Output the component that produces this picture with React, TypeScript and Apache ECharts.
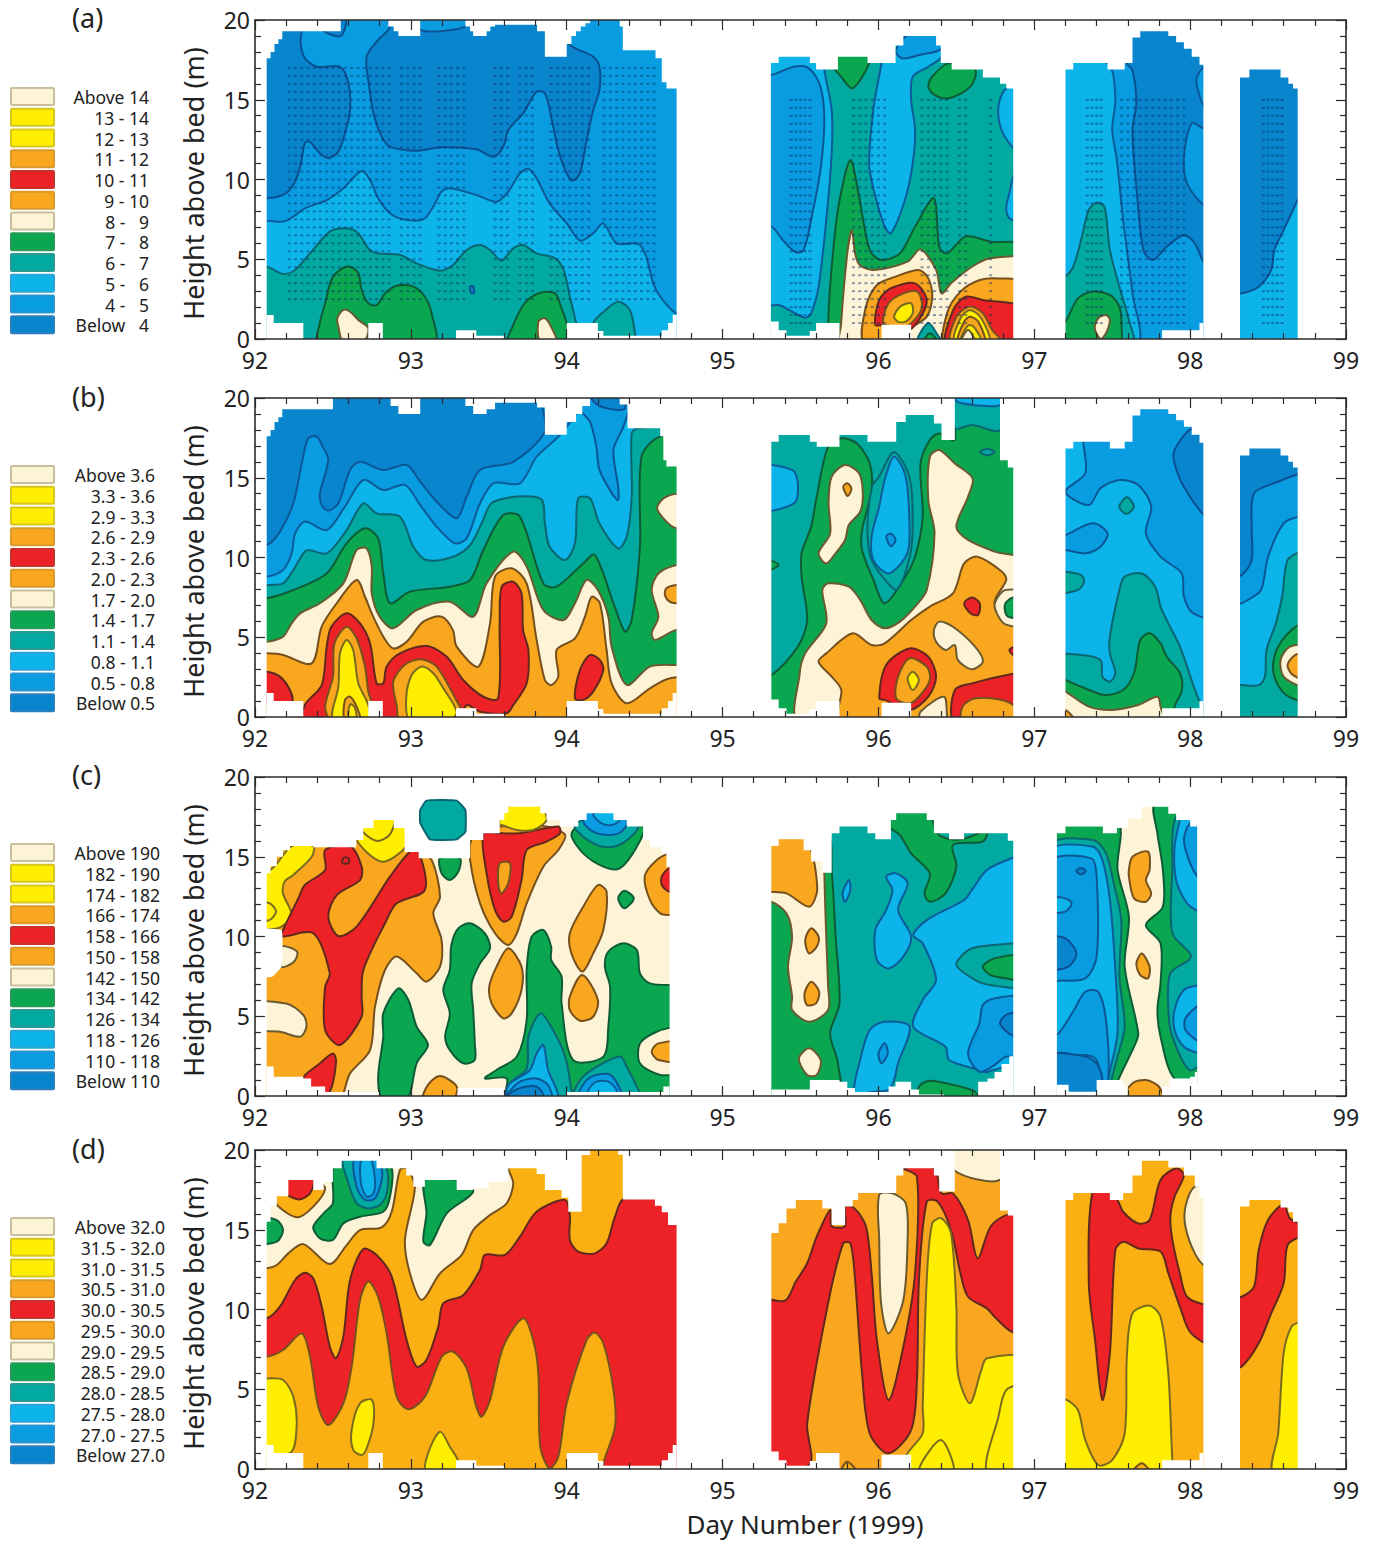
import React, { useEffect, useRef } from "react";
import * as echarts from "echarts";

const FONT = "'Noto Sans', sans-serif";
const FILL: Record<string, string> = {
  cream: "#FDF4D8", yellow: "#FFEE00", orange: "#F8A71E", gold: "#FAB013", red: "#EC2227", green: "#0AA650",
  teal: "#02A9A0", lblue: "#0DB4EA", blue: "#0A9CE0", dblue: "#0985CE", white: "#FFFFFF",
};
const STROKE: Record<string, string> = {
  cream: "#6B5A30", yellow: "#7A6A20", orange: "#75501E", gold: "#75501E", red: "#60281E", green: "#0E5C36",
  teal: "#0A6670", lblue: "#0B5C98", blue: "#0B5796", dblue: "#0B5090", white: "none",
};
const LEGEND_KEYS = ["cream", "yellow", "yellow", "orange", "red", "orange", "cream", "green", "teal", "lblue", "blue", "dblue"];
const EDGE = ["#C8BE9C", "#D8C61C", "#D8C61C", "#D99A2A", "#C8302C", "#D99A2A", "#C8BE9C", "#2A9A5A", "#2A9A94", "#2AA4D4", "#2A94D0", "#2A80BE"];

const legendA = ["Above 14", "13 - 14", "12 - 13", "11 - 12", "10 - 11", "9 - 10", "8 -   9", "7 -   8", "6 -   7", "5 -   6", "4 -   5", "Below   4"];
const legendB = ["Above 3.6", "3.3 - 3.6", "2.9 - 3.3", "2.6 - 2.9", "2.3 - 2.6", "2.0 - 2.3", "1.7 - 2.0", "1.4 - 1.7", "1.1 - 1.4", "0.8 - 1.1", "0.5 - 0.8", "Below 0.5"];
const legendC = ["Above 190", "182 - 190", "174 - 182", "166 - 174", "158 - 166", "150 - 158", "142 - 150", "134 - 142", "126 - 134", "118 - 126", "110 - 118", "Below 110"];
const legendD = ["Above 32.0", "31.5 - 32.0", "31.0 - 31.5", "30.5 - 31.0", "30.0 - 30.5", "29.5 - 30.0", "29.0 - 29.5", "28.5 - 29.0", "28.0 - 28.5", "27.5 - 28.0", "27.0 - 27.5", "Below 27.0"];

type Band = [string, number[]];
type Base = [string, number, number];

// Upper and lower limits of the sampled area: day, height pairs, held until the next day.
const topA = [92,0, 92.075,17.6, 92.1,18, 92.125,18.5, 92.15,18.8, 92.175,19.3, 92.55,20, 92.855,19.6, 92.89,19.3, 92.92,19, 93.06,20, 93.35,19.6, 93.38,19.3, 93.4,19, 93.486,19.3, 93.51,19.6, 93.54,19.7, 93.81,19.3, 93.86,17.7, 94,18.5, 94.03,19, 94.06,19.3, 94.09,19.6, 94.12,19.8, 94.15,20, 94.34,19.6, 94.36,18.1, 94.57,17.6, 94.61,16.1, 94.64,15.7, 94.705,0, 95.31,17.3, 95.36,17.7, 95.56,17.3, 95.6,16.9, 95.74,17.7, 95.93,17.3, 96.11,18.4, 96.16,19, 96.37,18.4, 96.4,17.3, 96.47,16.9, 96.67,16.4, 96.78,16, 96.82,15.7, 96.865,0, 97.2,16.9, 97.25,17.3, 97.47,16.9, 97.58,17.3, 97.63,18.9, 97.68,19.3, 97.86,19, 97.91,18.6, 97.96,18.2, 98.01,17.7, 98.06,17.2, 98.085,0, 98.32,16.4, 98.38,16.9, 98.58,16.4, 98.63,16, 98.66,15.7, 98.69,0];
const bottomA = [92,0, 92.075,1.5, 92.12,1, 92.31,0, 92.727,1, 92.82,0, 93.29,.55, 93.42,.2, 93.6,0, 94,1, 94.2,.5, 94.235,.2, 94.61,.55, 94.65,1, 94.68,1.5, 94.705,0, 95.31,1.1, 95.36,.55, 95.41,.2, 95.56,.5, 95.6,1, 95.75,0, 96.02,.9, 96.21,0, 97.82,.55, 98.06,1, 98.085,0];
const topB = [92,0, 92.075,17.6, 92.1,18, 92.125,18.5, 92.15,18.8, 92.175,19.3, 92.5,20, 92.87,19.5, 92.92,19, 93.06,20, 93.35,19.5, 93.4,19, 93.486,19.3, 93.54,19.7, 93.81,19.4, 93.86,17.7, 94,18.5, 94.06,19, 94.1,19.5, 94.15,20, 94.34,19.6, 94.39,18.1, 94.6,17.6, 94.62,16.1, 94.64,15.7, 94.705,0, 95.313,17.26, 95.36,17.68, 95.56,17.26, 95.604,16.95, 95.75,17.68, 95.93,17.26, 96.114,18.5, 96.175,18.93, 96.356,18.4, 96.405,17.37, 96.49,20, 96.78,16.1, 96.83,15.65, 96.865,0, 97.2,16.84, 97.25,17.26, 97.485,16.84, 97.58,17.26, 97.63,18.9, 97.68,19.3, 97.86,19, 97.91,18.6, 97.96,18.2, 98.01,17.7, 98.06,17.2, 98.085,0, 98.32,16.4, 98.38,16.84, 98.58,16.4, 98.63,16, 98.66,15.65, 98.69,0];
const topC = [92,0, 92.075,13.96, 92.1,14.4, 92.14,15, 92.18,15.4, 92.225,15.67, 92.374,15.6, 92.65,16.05, 92.695,16.8, 92.76,17.3, 92.89,16.8, 92.96,15.3, 93.05,14.9, 93.38,16.05, 93.465,16.47, 93.57,17.3, 93.6,17.75, 93.625,18.14, 93.83,17.72, 93.87,17.3, 93.957,16.89, 94.074,17.3, 94.128,17.72, 94.3,17.3, 94.385,16.89, 94.49,16.05, 94.534,15.6, 94.61,15.2, 94.64,14.38, 94.66,0, 95.313,15.67, 95.36,16.1, 95.52,15.4, 95.568,14.7, 95.64,14, 95.7,16.47, 95.75,16.9, 95.93,16.47, 95.98,16.1, 96.08,17.3, 96.114,17.72, 96.31,17.3, 96.356,16.47, 96.453,16.1, 96.55,16.47, 96.83,16, 96.865,0, 97.145,16.47, 97.2,16.9, 97.44,16.47, 97.53,16.8, 97.6,17.4, 97.69,18.14, 97.86,17.7, 97.91,17.3, 98,16.9, 98.045,0];
const bottomC = [92,0, 92.075,1.85, 92.12,1.2, 92.31,1.1, 92.36,.6, 92.45,.25, 92.8,0, 93.3,.5, 93.6,0, 94,.25, 94.62,.6, 94.66,0, 95.313,.4, 95.56,1, 95.75,.9, 95.8,.5, 95.85,.25, 96.065,.6, 96.11,.9, 96.21,.4, 96.26,.1, 96.42,0, 96.64,.9, 96.7,1.1, 96.745,1.5, 96.79,2, 96.84,2.5, 96.865,0, 97.145,.7, 97.22,.27, 97.4,1, 97.57,.6, 97.6,0, 97.82,.6, 97.87,1.1, 98,1.2, 98.03,1.5, 98.045,0];
const topD = [92,0, 92.075,15.5, 92.1,16.5, 92.14,17.1, 92.214,18.12, 92.374,17.5, 92.44,18, 92.5,18.85, 92.556,19.33, 92.78,18.85, 92.97,18.4, 93.016,17.7, 93.09,18.12, 93.294,17.5, 93.4,17.6, 93.5,18, 93.625,18.85, 93.807,18.5, 93.86,17.5, 93.967,17, 94.01,16.13, 94.096,19.69, 94.15,20, 94.33,19.7, 94.36,16.9, 94.566,16.5, 94.61,16.1, 94.65,15.3, 94.705,0, 95.313,14.8, 95.36,15.4, 95.41,16.34, 95.47,16.87, 95.64,16.34, 95.7,15.3, 95.786,16.45, 95.835,16.87, 95.87,17.3, 96.114,18.4, 96.16,18.85, 96.356,18.4, 96.39,17.4, 96.49,20, 96.78,16.2, 96.83,15.9, 96.865,0, 97.2,16.87, 97.25,17.3, 97.485,16.87, 97.57,17.3, 97.63,18.4, 97.69,19.33, 97.86,18.9, 97.96,18.4, 98.03,17.7, 98.06,17, 98.085,0, 98.32,16.45, 98.38,16.87, 98.58,16.4, 98.63,16.1, 98.66,15.5, 98.69,0];

const basesA: Base[] = [["blue",92,94.8],["teal",95.2,96.95],["blue",97.1,98.2],["lblue",98.2,98.8]];
const bandsA: Band[] = [
  ["dblue",[91.9,8.82, 92.075,8.82, 92.18,9.03, 92.246,9.65, 92.29,10.8, 92.32,12.27, 92.35,12.37, 92.417,11.64, 92.47,11.33, 92.535,11.75, 92.577,12.9, 92.61,14.36, 92.6,16.03, 92.545,17.07, 92.396,17.07, 92.32,17.6, 92.293,18.54, 92.29,20.2, 91.9,20.2]],
  ["dblue",[92.43,19.4, 92.55,19, 92.58,20.2, 92.43,20.2]],
  ["dblue",[92.862,20.2, 92.862,19.48, 92.79,18.75, 92.716,17.7, 92.733,15.82, 92.76,14.15, 92.813,12.69, 92.866,12.06, 93.037,11.8, 93.187,12.02, 93.42,11.89, 93.53,11.43, 93.593,12.06, 93.625,13.1, 93.72,14.15, 93.807,15.5, 93.86,15.4, 93.9,13.94, 93.946,11.85, 94,10.39, 94.04,9.93, 94.085,10.39, 94.128,12.48, 94.17,14.36, 94.21,15.6, 94.21,17.07, 94.17,17.7, 94.01,18.54, 94.01,20.2]],
  ["blue",[93.06,20.2, 93.06,19.4, 93.19,19.3, 93.35,19.6, 93.35,20.2]],
  ["lblue",[91.9,7.42, 92.075,7.42, 92.18,7.36, 92.246,7.67, 92.32,8.19, 92.46,8.71, 92.567,9.45, 92.684,10.53, 92.738,9.97, 92.79,8.82, 92.866,7.88, 92.95,7.5, 93.08,7.5, 93.144,8.3, 93.197,9.24, 93.25,9.45, 93.42,9.03, 93.55,8.61, 93.625,9.24, 93.7,10.39, 93.754,10.66, 93.807,10.07, 93.89,8.5, 94,7.25, 94.085,6.17, 94.17,6.62, 94.235,7.25, 94.32,6, 94.46,5.96, 94.51,5.16, 94.555,3.49, 94.6,2.65, 94.705,1.6, 94.85,1.6, 94.85,-.3, 91.9,-.3]],
  ["teal",[91.9,4.53, 92.075,4.53, 92.18,4.08, 92.257,4.33, 92.353,5.37, 92.48,6.73, 92.588,6.94, 92.663,6.62, 92.727,5.68, 92.78,5.37, 92.93,5.27, 93.037,4.74, 93.187,4.28, 93.27,4.64, 93.358,5.58, 93.444,5.89, 93.508,5.58, 93.58,4.91, 93.657,5.68, 93.72,5.89, 93.807,5.37, 93.925,5.06, 93.98,4.33, 94.02,2.65, 94.053,1.3, 94.074,-.3, 91.9,-.3]],
  ["teal",[94.17,1, 94.235,1.7, 94.33,2.34, 94.405,1.82, 94.44,.25, 94.44,-.3, 94.17,-.3]],
  ["green",[92.406,-.3, 92.413,.88, 92.45,2.24, 92.49,3.7, 92.545,4.33, 92.61,4.53, 92.663,4.12, 92.684,3.07, 92.727,2.24, 92.78,2.13, 92.834,2.86, 92.909,3.34, 93.016,3.28, 93.09,2.65, 93.133,1.61, 93.148,-.3]],
  ["green",[93.625,-.3, 93.657,.88, 93.73,2.24, 93.83,2.9, 93.925,2.86, 93.967,1.92, 94,.98, 94.02,-.3]],
  ["cream",[92.528,1.3, 92.567,1.82, 92.61,1.71, 92.663,1.19, 92.727,.67, 92.695,-.2, 92.567,-.2, 92.535,.77]],
  ["cream",[93.818,1.09, 93.86,1.3, 93.9,.77, 93.935,-.2, 93.83,-.2]],
  ["dblue",[93.38,3.3, 93.4,3.3, 93.405,2.9, 93.385,2.9]],
  // day 95-97 block
  ["lblue",[95.2,17.9, 95.653,17.9, 95.653,16.87, 95.7,14.36, 95.7,11.64, 95.665,7.46, 95.616,3.28, 95.568,1.61, 95.53,1.34, 95.446,1.71, 95.36,2.13, 95.2,2.13]],
  ["blue",[95.2,16.55, 95.313,16.55, 95.458,17.07, 95.555,16.97, 95.628,15.82, 95.653,13.73, 95.628,10.6, 95.568,7.46, 95.52,5.58, 95.47,5.43, 95.386,6.21, 95.313,7.04, 95.2,7.04]],
  ["green",[95.7,17.28, 95.76,18, 95.93,18, 95.94,17.28, 95.835,15.72, 95.76,16.45]],
  ["lblue",[96.03,17.9, 95.97,14.57, 95.94,11, 95.97,9.34, 96.04,7.04, 96.08,6.62, 96.17,8.71, 96.22,11, 96.235,13.1, 96.21,15, 96.22,16.45, 96.32,17.07, 96.405,17.7, 96.43,18.75, 96.03,18.75]],
  ["blue",[96.11,18.1, 96.21,19.2, 96.405,19.2, 96.405,18.2, 96.26,17.8, 96.15,17.6]],
  ["green",[96.32,15.82, 96.345,16.45, 96.45,17.28, 96.62,16.87, 96.59,15.82, 96.45,15.09, 96.36,15.3]],
  ["lblue",[96.95,15.7, 96.82,15.7, 96.77,14.57, 96.79,13.1, 96.88,11.85, 96.95,11.85]],
  ["lblue",[96.95,10.5, 96.88,10.5, 96.84,9.13, 96.82,8.2, 96.84,7.57, 96.88,7.46, 96.95,7.46]],
  ["green",[95.677,.77, 95.69,3.28, 95.74,8.09, 95.82,11.22, 95.876,8.92, 95.944,5.58, 96.017,4.95, 96.138,5.37, 96.235,7.04, 96.356,8.82, 96.39,5.79, 96.44,5.37, 96.56,6.42, 96.72,6.1, 96.94,5.79, 96.94,-.4, 95.677,-.4]],
  ["cream",[95.76,.88, 95.8,5.37, 95.83,6.83, 95.85,5.37, 95.88,4.64, 95.97,4.33, 96.187,4.85, 96.27,5.62, 96.37,4.33, 96.405,2.86, 96.466,3.49, 96.6,4.53, 96.72,5.06, 96.94,4.91, 96.94,-.4, 95.76,-.4]],
  ["orange",[95.907,-.2, 95.92,2.03, 95.99,3.39, 96.11,3.91, 96.26,4.33, 96.32,3.8, 96.345,2.65, 96.31,1.4, 96.21,.67, 96.16,-.2]],
  ["red",[95.98,.88, 96.005,2.45, 96.08,3.18, 96.235,3.49, 96.31,2.45, 96.26,1.19, 96.175,.46, 96.04,.88]],
  ["orange",[96.03,.98, 96.065,2.24, 96.16,2.86, 96.25,2.97, 96.28,2.13, 96.25,1.4, 96.16,.67, 96.09,.8]],
  ["yellow",[96.1,1.4, 96.14,2.03, 96.21,2.24, 96.22,1.61, 96.175,1.09, 96.125,1.09]],
  ["teal",[96.25,-.2, 96.32,1, 96.38,.25, 96.405,-.2]],
  ["green",[96.29,-.2, 96.33,.36, 96.38,-.2]],
  ["orange",[96.43,-.3, 96.44,1.61, 96.526,2.97, 96.65,3.7, 96.77,3.8, 96.94,3.49, 96.94,-.3]],
  ["red",[96.44,-.3, 96.48,1.82, 96.56,2.65, 96.67,2.45, 96.94,1.92, 96.94,-.3]],
  ["orange",[96.466,-.2, 96.5,1.4, 96.587,2.03, 96.67,1.61, 96.73,.56, 96.79,-.2]],
  ["yellow",[96.49,-.2, 96.526,1.3, 96.587,1.82, 96.66,1.3, 96.71,-.2]],
  ["orange",[96.51,-.2, 96.55,1.09, 96.587,1.4, 96.64,1.09, 96.68,-.2]],
  ["yellow",[96.526,-.2, 96.56,.67, 96.587,.88, 96.62,.67, 96.66,-.2]],
  ["cream",[96.53,-.2, 96.575,.56, 96.62,-.2]],
  // day 97-98 block
  ["lblue",[97.13,17.9, 97.47,17.28, 97.52,15.19, 97.5,13.1, 97.53,11.22, 97.57,7.46, 97.63,2.86, 97.66,-.3, 97.13,-.3]],
  ["dblue",[97.594,17.28, 97.63,16.87, 97.655,14.78, 97.63,13.1, 97.655,9.55, 97.7,5.58, 97.76,4.95, 97.85,5.79, 97.96,6.52, 98.03,6, 98.1,4.64, 98.18,4.64, 98.18,20, 97.594,20]],
  ["blue",[98.18,17.07, 98.09,17.07, 98.04,16.24, 98.07,14.98, 98.1,14.57, 98.18,14.57]],
  ["blue",[98.18,13.2, 98.09,13.2, 98.01,13.52, 97.96,11.43, 97.98,9.76, 98.09,8.4, 98.18,8.4]],
  ["teal",[97.13,3.49, 97.2,3.91, 97.25,4.53, 97.3,6.21, 97.35,8.09, 97.4,8.55, 97.45,8.3, 97.485,5.58, 97.546,3.28, 97.607,1.19, 97.63,-.3, 97.13,-.3]],
  ["green",[97.13,.56, 97.2,1.09, 97.28,2.55, 97.376,2.97, 97.485,2.76, 97.546,2.03, 97.56,.77, 97.546,-.3, 97.13,-.3]],
  ["cream",[97.388,.67, 97.41,1.3, 97.46,1.5, 97.485,1.19, 97.46,.36, 97.425,0]],
  // day 98-99 block
  ["dblue",[98.25,17.5, 98.76,17.5, 98.76,9.03, 98.71,9.03, 98.66,8.09, 98.6,6.83, 98.54,5.58, 98.52,4.33, 98.44,3.28, 98.33,2.86, 98.25,2.86]],
];

const basesB: Base[] = [["dblue",92,94.8],["teal",95.2,96.95],["lblue",97.1,98.2],["lblue",98.2,98.8]];
const bandsB: Band[] = [
  ["blue",[91.9,10.78, 92.075,10.78, 92.16,11.62, 92.246,13.4, 92.3,15.9, 92.342,17.47, 92.396,17.58, 92.434,16.95, 92.47,16.11, 92.417,14.02, 92.428,13.29, 92.47,12.94, 92.535,13.4, 92.61,15.49, 92.674,16, 92.823,15.49, 92.973,15.8, 93.06,14.75, 93.166,13.5, 93.294,12.46, 93.358,13.81, 93.444,15.49, 93.657,16, 93.86,17.89, 93.86,20.2, 94.9,20.2, 94.9,-.3, 91.9,-.3]],
  ["lblue",[91.9,8.8, 92.075,8.8, 92.18,9.22, 92.235,10.26, 92.257,11.5, 92.32,12.25, 92.46,11.72, 92.577,13.19, 92.695,14.86, 92.823,14.23, 92.962,14.55, 93.06,13.29, 93.166,11.93, 93.283,10.89, 93.358,11.2, 93.444,13.4, 93.53,14.65, 93.7,14.65, 93.807,16.32, 93.946,17.58, 94.085,19.35, 94.128,20.2, 94.9,20.2, 94.9,-.3, 91.9,-.3]],
  ["blue",[94.085,19.35, 94.15,18.5, 94.19,16.95, 94.21,15.49, 94.29,14.02, 94.33,13.6, 94.33,14.44, 94.3,16.74, 94.363,18.2, 94.395,19.67, 94.15,20.2]],
  ["dblue",[94.15,20.2, 94.21,19.5, 94.37,19.3, 94.35,20.2]],
  ["teal",[91.9,8.28, 92.075,8.28, 92.18,8.38, 92.246,9.22, 92.31,10.26, 92.342,10.47, 92.46,10.26, 92.588,11.72, 92.695,13.4, 92.78,12.77, 92.93,12.56, 93.016,10.68, 93.1,9.84, 93.27,10.05, 93.38,10.78, 93.454,12.14, 93.53,13.5, 93.83,13.71, 93.86,12.14, 93.89,10.68, 93.99,9.84, 94.053,10.89, 94.074,13.71, 94.15,13.71, 94.21,12.14, 94.33,10.57, 94.385,11.31, 94.417,13.81, 94.417,17.78, 94.46,18.1, 94.9,18.1, 94.9,-.3, 91.9,-.3]],
  ["green",[91.9,7.44, 92.075,7.44, 92.246,7.96, 92.46,9, 92.588,10.89, 92.706,11.83, 92.79,11.2, 92.823,9, 92.866,7.13, 92.994,7.86, 93.25,8.17, 93.38,8.59, 93.465,10.47, 93.593,12.66, 93.7,12.56, 93.85,8.38, 93.935,8.17, 94.106,9.63, 94.18,10.16, 94.3,7.13, 94.374,5.35, 94.417,6.08, 94.47,10.68, 94.48,16.32, 94.6,17.58, 94.9,17.58, 94.9,-.3, 91.9,-.3]],
  ["cream",[91.9,4.72, 92.075,4.72, 92.18,5.04, 92.235,5.87, 92.29,6.5, 92.417,7.13, 92.567,8.38, 92.652,10.47, 92.716,10.57, 92.749,9.43, 92.749,7.75, 92.8,6.29, 92.887,5.56, 93.037,6.71, 93.25,7.23, 93.4,6.29, 93.486,8.38, 93.657,10.37, 93.743,9.43, 93.85,6.71, 93.98,6.08, 94.053,7.13, 94.128,8.59, 94.2,7.96, 94.267,6.29, 94.288,4.41, 94.385,2.01, 94.534,3.16, 94.705,3.26, 94.9,3.26, 94.9,-.3, 91.9,-.3]],
  ["cream",[94.9,14, 94.705,14, 94.62,13.7, 94.58,13.08, 94.64,12.25, 94.705,11.83, 94.9,11.83]],
  ["cream",[94.9,9.53, 94.705,9.53, 94.588,9, 94.545,7.96, 94.588,6.29, 94.545,5.25, 94.566,4.83, 94.705,5.45, 94.9,5.45]],
  ["orange",[94.9,8.28, 94.705,8.28, 94.64,8.07, 94.63,7.65, 94.66,7.23, 94.705,7.13, 94.9,7.13]],
  ["orange",[91.9,3.99, 92.075,3.99, 92.18,3.89, 92.364,3.36, 92.428,5.66, 92.524,7.13, 92.652,8.59, 92.706,7.54, 92.749,6.5, 92.823,5.04, 92.887,4.3, 92.973,4.72, 93.08,5.98, 93.198,6.29, 93.27,5.45, 93.294,4.41, 93.433,3.16, 93.508,5.87, 93.54,8.8, 93.647,9.32, 93.743,8.38, 93.807,4.83, 93.86,2.32, 93.9,2, 93.946,2.53, 93.935,4.2, 94.053,4.93, 94.117,6.29, 94.16,7.54, 94.213,7.13, 94.256,4.2, 94.288,2.11, 94.385,.86, 94.534,1.8, 94.66,2.42, 94.9,2.42, 94.9,-.3, 91.9,-.3]],
  ["red",[91.9,2.84, 92.075,2.84, 92.16,2.53, 92.224,1.69, 92.235,.96, 92.075,.8, 91.9,.8]],
  ["red",[92.31,-.3, 92.32,.75, 92.428,2, 92.46,4.41, 92.49,5.66, 92.588,6.5, 92.674,5.87, 92.738,4.62, 92.78,2.11, 92.823,2.11, 92.845,3.16, 92.93,3.99, 93.1,4.45, 93.23,3.78, 93.336,2.32, 93.465,1.27, 93.56,1.17, 93.57,5.87, 93.583,8.17, 93.657,8.48, 93.71,7.75, 93.72,5.45, 93.754,4.2, 93.743,2.11, 93.657,.75, 93.615,.23, 93.444,.33, 93.358,.75, 93.294,-.3]],
  ["orange",[92.49,-.2, 92.45,.65, 92.5,2.53, 92.51,4.62, 92.588,5.66, 92.652,4.93, 92.706,3.16, 92.727,1.59, 92.749,.75, 92.695,-.2]],
  ["yellow",[92.5,-.2, 92.535,1.9, 92.545,3.99, 92.588,4.83, 92.63,4.2, 92.663,2.11, 92.727,.75, 92.727,-.2]],
  ["orange",[92.577,-.2, 92.577,1.07, 92.61,1.27, 92.652,.65, 92.674,-.2]],
  ["yellow",[92.6,-.2, 92.61,.8, 92.64,.6, 92.65,-.2]],
  ["orange",[92.93,-.2, 92.91,.65, 92.887,2.22, 92.96,3.26, 93.06,3.62, 93.166,3.16, 93.315,.65, 93.37,-.2]],
  ["yellow",[92.994,-.2, 92.97,1.17, 93.005,2.63, 93.07,3.16, 93.144,2.74, 93.208,1.8, 93.294,.33, 93.25,-.2]],
  ["red",[94.053,1.17, 94.085,2.95, 94.15,3.89, 94.213,3.57, 94.235,2.95, 94.17,1.59, 94.106,1.07]],
  // day 95-97 block
  ["lblue",[95.2,15.69, 95.446,15.49, 95.483,14.65, 95.458,13.4, 95.2,12.98]],
  ["green",[95.2,10.05, 95.36,9.53, 95.2,9]],
  ["green",[95.2,2.63, 95.313,2.63, 95.483,4.41, 95.543,6.08, 95.507,8.8, 95.507,10.26, 95.568,11.93, 95.604,13.81, 95.677,16.95, 95.762,17.47, 95.86,17.16, 95.944,15.9, 95.956,14.23, 95.895,11.72, 95.895,10.47, 95.968,8.59, 96.04,7.13, 96.16,8.59, 96.235,10.05, 96.284,12.56, 96.27,15.9, 96.33,17.37, 96.39,17.78, 96.49,17.37, 96.49,20.3, 96.94,20.3, 96.94,-.3, 95.2,-.3]],
  ["teal",[96.49,18.1, 96.6,18.3, 96.78,17.98, 96.78,20.3, 96.49,20.3]],
  ["lblue",[96.5,19.8, 96.62,19.55, 96.78,19.55, 96.78,20.3, 96.5,20.3]],
  ["teal",[96.65,16.6, 96.7,16.8, 96.745,16.6, 96.7,16.4]],
  ["teal",[95.96,14.5, 96.0,15, 96.1,16.6, 96.2,15, 96.22,12, 96.2,10, 96.12,8, 96.05,8.5, 95.95,10, 95.93,12]],
  ["lblue",[96.04,14.86, 96.1,16.32, 96.175,15.07, 96.2,11.31, 96.175,10.05, 96.065,9, 95.968,9.84, 95.956,11.31, 96.005,13.19]],
  ["blue",[96.05,11.31, 96.08,11.5, 96.11,11.1, 96.08,10.7]],
  ["cream",[95.7,15.07, 95.786,15.8, 95.876,15.28, 95.9,14.02, 95.883,12.87, 95.81,12.04, 95.786,11.1, 95.725,10.26, 95.665,9.63, 95.616,10.26, 95.69,11.5, 95.68,13.4]],
  ["orange",[95.774,14.44, 95.8,14.65, 95.827,14.33, 95.803,13.85]],
  ["cream",[95.495,-.3, 95.495,2.74, 95.53,3.99, 95.665,5.87, 95.64,7.96, 95.677,8.38, 95.81,8.17, 95.883,7.34, 95.956,6.08, 96.04,5.56, 96.138,5.98, 96.235,6.92, 96.31,7.96, 96.36,11.52, 96.32,13.6, 96.33,16.32, 96.39,16.74, 96.49,15.9, 96.604,14.96, 96.575,13.81, 96.5,11.93, 96.575,11.1, 96.745,10.37, 96.94,9.74, 96.94,-.3]],
  ["orange",[95.75,-.3, 95.762,1.69, 95.7,2.53, 95.616,3.47, 95.665,3.99, 95.835,5.25, 95.956,4.51, 96.04,4.62, 96.21,6.08, 96.33,6.92, 96.478,7.75, 96.55,9.63, 96.636,10.05, 96.793,9.11, 96.82,8.59, 96.745,7.13, 96.878,5.66, 96.94,5.66, 96.94,-.3]],
  ["cream",[96.94,8, 96.878,8, 96.8,7.9, 96.745,7, 96.8,5.9, 96.878,5.66, 96.94,5.66]],
  ["green",[96.94,7.55, 96.878,7.55, 96.82,7.2, 96.81,6.8, 96.83,6.3, 96.878,6.2, 96.94,6.2]],
  ["red",[96.55,7.13, 96.6,7.5, 96.65,7.13, 96.64,6.4, 96.59,6.5]],
  ["cream",[96.356,5.45, 96.39,5.98, 96.478,5.66, 96.62,4.41, 96.67,3.47, 96.6,2.99, 96.51,3.57, 96.49,4.51, 96.43,4.2, 96.37,4.72]],
  ["red",[96.84,4.2, 96.88,4.41, 96.95,4.41, 96.95,3.78, 96.88,3.78]],
  ["red",[96.005,1.17, 96.05,3.26, 96.2,4.3, 96.32,3.78, 96.37,2.53, 96.32,1.27, 96.2,.44, 96.04,1.07]],
  ["orange",[96.114,1.17, 96.126,2.53, 96.2,3.68, 96.31,3.16, 96.33,2.32, 96.26,1.27, 96.2,.86]],
  ["yellow",[96.187,2.42, 96.22,2.84, 96.26,2.32, 96.22,1.69]],
  ["cream",[96.27,.33, 96.42,1.27, 96.44,.1, 96.44,-.2, 96.27,-.2]],
  ["red",[96.49,-.3, 96.49,1.69, 96.6,2.11, 96.88,2.74, 96.95,2.74, 96.95,-.3]],
  ["orange",[96.54,-.3, 96.54,.65, 96.62,1.17, 96.79,1.07, 96.88,.65, 96.95,-.3]],
  // day 97-98 block
  ["blue",[97.315,20, 97.315,17.26, 97.327,15.28, 97.2,14.13, 97.35,13.29, 97.425,14.34, 97.546,14.86, 97.667,14.55, 97.75,13.19, 97.716,11.52, 97.81,10.05, 97.946,9, 97.96,7.54, 98.02,6.5, 98.18,6.29, 98.18,20]],
  ["dblue",[98.01,18.1, 97.9,16.74, 97.9,15.9, 97.96,14.44, 98.1,12.56, 98.18,12.56, 98.18,18.4]],
  ["blue",[97.157,11.31, 97.2,11.41, 97.376,12.14, 97.47,11.52, 97.425,10.68, 97.33,10.26, 97.2,10.47, 97.157,10.47]],
  ["teal",[97.546,13.19, 97.594,13.77, 97.64,13.19, 97.59,12.73]],
  ["teal",[97.157,9.11, 97.2,9.11, 97.3,8.9, 97.32,8.48, 97.28,7.96, 97.157,7.85]],
  ["teal",[97.157,3.78, 97.3,3.89, 97.425,3.57, 97.437,2.53, 97.485,2.22, 97.52,2.74, 97.485,3.99, 97.485,5.04, 97.546,7.96, 97.58,8.8, 97.69,9, 97.776,8.17, 97.81,6.92, 97.86,5.87, 97.935,4.41, 98.056,1.07, 98.1,.65, 98.18,-.3, 97.157,-.3]],
  ["green",[97.157,2.32, 97.3,1.9, 97.45,1.38, 97.57,1.69, 97.64,2.74, 97.68,4.83, 97.74,5.25, 97.81,4.62, 97.85,3.78, 97.935,2.74, 97.947,1.69, 97.9,.65, 97.886,-.3, 97.157,-.3]],
  ["cream",[97.157,1.69, 97.2,1.59, 97.35,.65, 97.5,.44, 97.667,.75, 97.79,1.27, 97.81,.65, 97.825,-.3, 97.157,-.3]],
  ["orange",[97.2,-.2, 97.2,.44, 97.26,-.2]],
  // day 98-99 block
  ["blue",[98.25,18, 98.76,18, 98.76,12.6, 98.71,12.6, 98.6,12.14, 98.5,10.05, 98.455,7.96, 98.37,7.34, 98.33,7.13, 98.25,7.13]],
  ["dblue",[98.25,18, 98.76,18, 98.76,15.28, 98.71,15.28, 98.565,14.75, 98.41,14.02, 98.395,11.72, 98.395,9.84, 98.33,8.9, 98.25,8.9]],
  ["teal",[98.76,10.37, 98.71,10.37, 98.625,9.84, 98.59,7.54, 98.55,5.87, 98.49,4.2, 98.48,2.53, 98.44,2, 98.33,2, 98.25,2, 98.25,-.3, 98.76,-.3]],
  ["green",[98.76,5.87, 98.71,5.87, 98.6,4.93, 98.54,3.78, 98.54,2.53, 98.615,1.38, 98.76,1.07]],
  ["cream",[98.76,4.41, 98.64,4.41, 98.58,3.57, 98.6,2.53, 98.71,1.9, 98.76,1.9]],
  ["orange",[98.76,3.99, 98.675,3.89, 98.625,3.26, 98.66,2.63, 98.76,2.36]],
];

const basesC: Base[] = [["cream",92,94.8],["teal",95.2,96.95],["cream",97.1,98.2]];
const bandsC: Band[] = [
  ["orange",[91.9,16.5, 92.973,16.5, 93.05,15.3, 93.133,14.8, 93.187,12.5, 93.144,11.45, 93.197,9.78, 93.187,8.11, 93.1,7.17, 93.037,7.69, 92.909,8.74, 92.834,7.9, 92.77,5.6, 92.738,2.88, 92.61,1.42, 92.528,-.3, 91.9,-.3]],
  ["yellow",[91.9,14.17, 92.096,14.17, 92.235,15.67, 92.374,15.67, 92.364,15, 92.246,13.86, 92.19,13.44, 92.18,12.7, 92.235,11.35, 92.17,10.62, 92.096,10.45, 91.9,10.45]],
  ["yellow",[91.9,12.12, 92.085,12.12, 92.135,11.56, 92.085,11, 91.9,11]],
  ["yellow",[92.65,16.09, 92.706,16.78, 92.78,17.5, 92.91,17.5, 92.984,16.78, 92.973,15.67, 92.813,14.69]],
  ["yellow",[92.68,16.7, 92.78,16, 92.866,16.4, 92.89,17.5, 92.68,17.5]],
  ["red",[92.45,15.42, 92.61,15.67, 92.684,14.38, 92.674,13.54, 92.524,12.6, 92.47,11.24, 92.535,10.03, 92.652,10.62, 92.866,13.75, 92.994,15.32, 93.05,15.32, 93.09,12.92, 92.909,12.08, 92.834,10.83, 92.695,7.9, 92.684,6.23, 92.684,4.97, 92.545,3.2, 92.45,4.14, 92.45,6.85, 92.48,7.69, 92.374,10.2, 92.17,10, 92.18,10.41, 92.278,12.39, 92.32,13.23, 92.45,14.17]],
  ["red",[92.57,14.95, 92.6,14.9, 92.6,14.6, 92.56,14.6]],
  ["cream",[91.9,5.8, 92.2,5.8, 92.31,5.08, 92.33,4.35, 92.29,3.72, 92.16,4.03, 91.9,4.24]],
  ["cream",[92.17,9.36, 92.27,9.05, 92.25,8.42, 92.17,8.1]],
  ["red",[92.31,1.1, 92.417,2.05, 92.5,2.67, 92.52,2.15, 92.48,.27, 92.417,.17]],
  ["green",[92.79,1.1, 92.823,3.72, 92.823,5.18, 92.92,6.75, 92.984,6.02, 93.037,4.35, 93.11,3.2, 93.037,2.05, 92.973,-.3, 92.823,-.3]],
  ["orange",[93.08,-.2, 93.11,.7, 93.187,1.25, 93.294,.6, 93.27,-.2]],
  ["green",[93.26,9.47, 93.304,10.51, 93.38,10.83, 93.475,10.2, 93.508,9.26, 93.444,8.32, 93.39,7.06, 93.4,5.39, 93.41,3.3, 93.41,2.26, 93.337,2.05, 93.25,2.88, 93.22,3.72, 93.25,5.18, 93.208,6.65, 93.25,7.9]],
  ["green",[93.187,14.9, 93.315,14.9, 93.304,14.06, 93.25,13.54, 93.197,13.96]],
  ["orange",[93.38,14.8, 93.39,16.09, 93.465,16.47, 93.57,16.89, 93.87,16.89, 93.99,16.36, 93.946,15.42, 93.85,14.38, 93.743,12.08, 93.68,10.2, 93.625,9.47, 93.54,10.2, 93.444,12.08]],
  ["orange",[93.625,9.26, 93.71,8.11, 93.71,6.65, 93.647,5.18, 93.593,4.87, 93.518,5.81, 93.503,6.85, 93.55,8.11]],
  ["red",[93.465,16.43, 93.57,16.47, 93.7,16.47, 93.946,16.89, 93.957,16.47, 93.87,15.95, 93.743,15.42, 93.71,13.54, 93.647,11.24, 93.593,10.93, 93.54,11.66, 93.486,13.96]],
  ["orange",[93.57,14.59, 93.636,14.59, 93.625,13.33, 93.58,12.7, 93.56,13.33]],
  ["yellow",[93.57,16.89, 93.57,17.72, 93.625,18.2, 93.83,18.2, 93.87,17.3, 93.786,16.68, 93.68,16.68, 93.58,16.99]],
  ["green",[94.03,16.36, 94.074,16.89, 94.49,16.89, 94.45,15.63, 94.34,14.27, 94.235,14.38, 94.106,15.21]],
  ["teal",[94.05,16.89, 94.15,15.95, 94.267,15.59, 94.374,15.95, 94.46,16.89, 94.385,17.4, 94.128,17.4]],
  ["blue",[94.106,17.2, 94.17,16.57, 94.267,16.36, 94.35,16.57, 94.39,17.2, 94.3,17.8, 94.128,17.8]],
  ["lblue",[94.17,17.62, 94.224,17.09, 94.288,16.99, 94.34,17.3, 94.3,17.8, 94.19,17.9]],
  ["green",[94.33,12.39, 94.37,12.87, 94.43,12.39, 94.37,11.77]],
  ["orange",[94.8,15.2, 94.66,15.2, 94.566,14.69, 94.5,13.75, 94.534,12.29, 94.6,11.45, 94.66,11.35, 94.8,11.35]],
  ["red",[94.8,14.27, 94.66,14.27, 94.61,13.75, 94.61,13.23, 94.66,12.8, 94.8,12.8]],
  ["orange",[94.02,10.2, 94.106,11.87, 94.2,13.23, 94.256,12.81, 94.235,10.41, 94.17,8.94, 94.1,7.8, 94.03,8.94]],
  ["orange",[94.1,7.59, 94.2,6.02, 94.17,4.97, 94.085,4.72, 94.02,5.39, 94.02,6.23]],
  ["green",[93.615,1.1, 93.475,1.1, 93.55,1.63, 93.68,2.47, 93.743,4.76, 93.743,7.9, 93.775,9.99, 93.85,10.41, 93.9,9.36, 93.9,8.53, 93.967,7.48, 93.967,5.81, 94.04,2.26, 94.235,2.47, 94.267,4.35, 94.278,6.85, 94.245,8.11, 94.267,9.05, 94.363,9.57, 94.45,9.15, 94.47,7.69, 94.534,7.06, 94.705,6.96, 94.8,6.96, 94.8,4.35, 94.705,4.35, 94.577,4.03, 94.47,3.3, 94.47,2.05, 94.6,1.32, 94.8,1.32, 94.8,-.3, 93.615,-.3]],
  ["orange",[94.8,3.4, 94.588,3.3, 94.545,2.78, 94.588,2.26, 94.8,2.15]],
  ["teal",[93.625,.69, 93.743,1.73, 93.754,3.72, 93.83,5.18, 93.9,4.35, 93.99,2.47, 94.03,.38, 94.04,-.3, 93.615,-.3]],
  ["lblue",[93.615,.38, 93.636,.79, 93.764,1.63, 93.807,2.67, 93.85,3.2, 93.88,1.63, 93.935,.38, 93.945,-.3, 93.615,-.3]],
  ["blue",[93.615,.06, 93.7,.9, 93.807,1.1, 93.88,.69, 93.9,-.2, 93.615,-.2]],
  ["dblue",[93.615,-.1, 93.68,.42, 93.807,.58, 93.85,-.1]],
  ["teal",[94.05,.38, 94.128,1.42, 94.34,2.47, 94.385,1.84, 94.46,.38, 94.48,-.2, 94.05,-.2]],
  ["blue",[94.075,-.2, 94.14,1.1, 94.28,1.32, 94.35,-.2]],
  ["lblue",[94.14,.38, 94.19,.9, 94.267,.9, 94.32,.38, 94.32,-.2, 94.14,-.2]],
  // day 95-97 block
  ["green",[95.2,16.47, 95.665,16.47, 95.7,14.17, 95.725,9.99, 95.75,5.81, 95.69,3.93, 95.74,2.05, 95.74,-.3, 95.2,-.3]],
  ["cream",[95.2,15.63, 95.653,15.63, 95.653,13.96, 95.665,9.99, 95.677,6.85, 95.677,5.39, 95.555,4.66, 95.446,5.39, 95.446,6.23, 95.42,8.11, 95.446,9.99, 95.41,11.45, 95.313,12.18, 95.2,12.18]],
  ["orange",[95.2,16.2, 95.52,16.2, 95.58,15, 95.604,13.54, 95.604,12.7, 95.555,11.87, 95.41,12.7, 95.313,12.79, 95.2,12.79]],
  ["orange",[95.53,9.78, 95.568,10.51, 95.616,9.99, 95.604,9.36, 95.555,8.94]],
  ["orange",[95.526,6.44, 95.568,7.17, 95.62,6.54, 95.6,5.81, 95.54,5.71]],
  ["cream",[95.49,2.36, 95.555,2.99, 95.63,2.26, 95.604,1.32, 95.543,1.32]],
  ["green",[96.065,17.3, 96.114,18, 96.31,18, 96.38,16.47, 96.453,16.11, 96.54,16.11, 96.696,16.6, 96.67,15.95, 96.478,15.74, 96.5,14.38, 96.43,12.7, 96.33,12.18, 96.296,12.7, 96.33,13.96, 96.21,15.21, 96.138,16.36, 96.08,16.78]],
  ["lblue",[96.94,15.1, 96.878,15, 96.696,14.17, 96.6,12.92, 96.55,12.29, 96.31,11.03, 96.223,10.09, 96.284,9.57, 96.37,7.27, 96.284,6.02, 96.223,4.35, 96.43,3.09, 96.453,2.26, 96.648,1.63, 96.696,1.5, 96.94,2.67]],
  ["teal",[96.5,8.32, 96.6,9.26, 96.878,9.57, 96.94,9.57, 96.94,6.65, 96.878,6.75, 96.67,7.06, 96.54,7.79]],
  ["green",[96.67,8.11, 96.745,8.63, 96.94,8.74, 96.94,7.27, 96.82,7.38, 96.72,7.58]],
  ["blue",[96.575,2.67, 96.648,4.56, 96.67,5.71, 96.745,6.12, 96.94,6.12, 96.94,2.47, 96.82,2.47, 96.745,1.94, 96.648,1.52]],
  ["dblue",[96.78,4.56, 96.83,5.14, 96.94,5.14, 96.94,3.82, 96.855,3.82]],
  ["lblue",[95.98,10.41, 96.05,11.66, 96.09,12.92, 96.05,13.75, 96.114,13.96, 96.187,13.33, 96.126,11.66, 96.21,9.99, 96.16,8.74, 96.065,8, 95.99,8.53]],
  ["lblue",[95.77,12.7, 95.81,13.54, 95.82,12.92, 95.786,12.18]],
  ["lblue",[95.847,.17, 95.883,2.26, 95.944,4.14, 96.04,4.66, 96.2,4.35, 96.126,2.05, 96.1,1, 96.065,.38, 95.968,.27]],
  ["blue",[96,2.67, 96.04,3.3, 96.06,2.67, 96.02,2.05]],
  ["green",[96.26,.58, 96.33,.96, 96.53,.58, 96.62,.27, 96.64,-.2, 96.26,-.2]],
  // day 97-98 block
  ["green",[97.11,17.2, 97.534,17.2, 97.534,14.17, 97.607,11.24, 97.58,8.11, 97.667,3.93, 97.64,3.09, 97.534,.9, 97.5,-.3, 97.11,-.3]],
  ["teal",[97.11,15.67, 97.376,16.05, 97.46,15.21, 97.51,13.33, 97.558,11.03, 97.546,7.48, 97.58,4.35, 97.534,2.47, 97.497,1.1, 97.47,-.3, 97.11,-.3]],
  ["lblue",[97.11,15.32, 97.376,15.63, 97.437,14.8, 97.485,12.29, 97.52,7.9, 97.534,3.93, 97.475,1.1, 97.46,-.3, 97.11,-.3]],
  ["blue",[97.11,14.69, 97.365,14.9, 97.4,13.75, 97.4,8.74, 97.327,7.38, 97.157,7.23, 97.11,7.23]],
  ["dblue",[97.11,9.88, 97.2,9.88, 97.27,8.94, 97.218,8.11, 97.11,8]],
  ["lblue",[97.11,12.39, 97.2,12.39, 97.24,12.08, 97.2,11.56, 97.11,11.56]],
  ["dblue",[97.27,14.1, 97.3,14.3, 97.33,14.1, 97.3,13.9]],
  ["blue",[97.11,3.82, 97.157,3.93, 97.255,5.39, 97.327,6.54, 97.41,6.54, 97.46,4.76, 97.475,1.1, 97.437,.69, 97.4,2.26, 97.327,2.57, 97.11,2.57]],
  ["dblue",[97.11,2.57, 97.327,2.47, 97.4,2.05, 97.437,1, 97.39,.17, 97.11,.17]],
  ["green",[97.776,18.35, 97.79,16.47, 97.825,14.17, 97.825,11.87, 97.716,10.72, 97.81,9.57, 97.81,7.06, 97.79,5.39, 97.81,3.72, 97.9,1.1, 98.08,1.1, 98.08,18.35]],
  ["teal",[97.91,17.5, 97.886,14.17, 97.886,10.2, 98.006,8.74, 97.873,7.69, 97.86,5.39, 97.886,3.72, 97.995,1.63, 98.08,2.3, 98.08,18]],
  ["lblue",[97.934,17.3, 97.9,15.63, 97.91,13.54, 97.98,12.08, 98.055,11.56, 98.08,11.56, 98.08,18, 97.947,17.5]],
  ["blue",[98,17.1, 97.96,16.05, 98,14.59, 98.055,13.65, 98.08,13.65, 98.08,17.1]],
  ["lblue",[98.055,6.96, 97.96,6.65, 97.9,5.39, 97.9,4.14, 97.96,3.09, 98.055,2.67, 98.08,2.67, 98.08,7.06]],
  ["blue",[98.055,5.7, 97.97,4.87, 97.97,4.14, 98.055,3.4, 98.08,3.4, 98.08,5.7]],
  ["orange",[97.607,14.17, 97.63,15, 97.73,15.32, 97.74,14.17, 97.716,13.54, 97.75,12.7, 97.716,12.18, 97.64,12.39, 97.607,13.75]],
  ["orange",[97.655,8.3, 97.69,8.94, 97.74,8.11, 97.73,7.38, 97.68,7.58]],
  ["orange",[97.57,-.2, 97.63,.8, 97.716,1, 97.8,.58, 97.82,-.2]],
];
// Patches that sit outside the sampled outline of panel (c).
const islandsC: Band[] = [
  ["white",[91.9,10.41, 92.17,10.41, 92.17,8.1, 92.11,7.48, 91.9,7.48]],
  ["teal",[93.06,17.93, 93.1,18.52, 93.294,18.52, 93.35,17.93, 93.35,16.57, 93.294,16.09, 93.123,16.09, 93.06,17.14]],
];

const basesD: Base[] = [["cream",92,94.8],["orange",95.2,96.95],["gold",97.1,98.2],["gold",98.2,98.8]];
const bandsD: Band[] = [
  ["gold",[91.9,12.58, 92.075,12.58, 92.14,12.79, 92.214,13.52, 92.31,14.1, 92.48,12.85, 92.588,14.04, 92.674,14.98, 92.813,15.15, 92.877,16.13, 92.93,18.75, 92.973,18.85, 93.026,17.7, 92.962,14.36, 92.994,12.27, 93.07,10.6, 93.187,12.27, 93.326,13.42, 93.4,14.98, 93.508,15.92, 93.615,16.66, 93.657,17.91, 93.625,18.85, 93.625,20.3, 94.9,20.3, 94.9,-.3, 91.9,-.3]],
  ["red",[91.9,9.45, 92.075,9.45, 92.16,10.18, 92.257,11.85, 92.32,12.31, 92.374,11.95, 92.428,10.18, 92.48,7.67, 92.52,6.94, 92.567,8.3, 92.61,11.85, 92.695,13.79, 92.78,13.42, 92.877,12.06, 92.973,8.09, 93.037,6.42, 93.1,6.83, 93.176,8.92, 93.208,10.39, 93.336,10.9, 93.444,12.48, 93.475,13.42, 93.604,13.42, 93.7,14.57, 93.807,16.13, 93.99,16.87, 94.02,15.92, 94.02,14.36, 94.074,13.63, 94.18,13.52, 94.256,14.15, 94.31,15.82, 94.374,16.97, 94.9,16.97, 94.9,-.3, 91.9,-.3]],
  ["gold",[91.9,7.04, 92.075,7.04, 92.18,7.46, 92.3,8.5, 92.353,7.04, 92.406,3.91, 92.47,2.76, 92.567,4.12, 92.62,6.42, 92.674,10.6, 92.727,11.75, 92.79,10.8, 92.845,8.5, 92.909,4.53, 92.984,3.74, 93.09,4.53, 93.198,7.04, 93.27,7.36, 93.358,6.31, 93.42,3.91, 93.454,3.28, 93.508,4.33, 93.593,7.67, 93.72,9.45, 93.785,8.09, 93.818,6, 93.83,1.4, 93.89,.04, 93.946,.77, 94,4.12, 94.128,8.09, 94.18,8.55, 94.235,7.88, 94.3,4.95, 94.31,2.65, 94.235,.36, 94.235,-.3, 91.9,-.3]],
  ["yellow",[91.9,5.68, 92.075,5.68, 92.18,5.58, 92.246,4.53, 92.267,2.65, 92.224,1, 91.9,1]],
  ["yellow",[92.62,2.45, 92.674,4.12, 92.75,4.33, 92.76,2.86, 92.717,1.3, 92.684,.88, 92.63,1.2]],
  ["yellow",[93.1,-.2, 93.11,.98, 93.187,2.34, 93.25,1.4, 93.305,.46, 93.294,-.2]],
  ["green",[91.9,15.92, 92,15.92, 92.14,15.6, 92.18,14.98, 92.14,14.25, 92,14.04, 91.9,14.04]],
  ["gold",[92.12,16.82, 92.267,15.78, 92.374,16.45, 92.45,17.6, 92.374,18.12, 92.214,18.12, 92.17,17.5]],
  ["red",[92.17,17.5, 92.278,16.9, 92.353,17.28, 92.374,18.2, 92.214,18.2]],
  ["green",[92.374,15.19, 92.45,16.13, 92.5,16.66, 92.5,18.85, 92.556,19.5, 92.78,19.5, 92.877,18.85, 92.866,17.07, 92.823,16.13, 92.674,15.82, 92.567,15.4, 92.5,14.36, 92.417,14.46]],
  ["teal",[92.567,19.5, 92.6,17.9, 92.652,16.66, 92.727,16.34, 92.8,16.55, 92.845,17.28, 92.845,18.85, 92.77,19.5]],
  ["blue",[92.64,19.5, 92.652,17.7, 92.706,16.87, 92.77,16.97, 92.813,18.12, 92.813,18.85, 92.78,19.5]],
  ["lblue",[92.684,19.5, 92.68,17.9, 92.717,17.07, 92.76,17.28, 92.77,18.12, 92.74,19.5]],
  ["green",[93.09,18.12, 93.294,18.12, 93.4,17.39, 93.23,16.03, 93.123,14.04, 93.08,14.25, 93.1,16.03]],
  // day 95-97 block
  ["cream",[96.49,20.3, 96.78,20.3, 96.78,18.12, 96.49,18.7]],
  ["red",[95.2,10.6, 95.4,10.55, 95.47,11.75, 95.543,12.9, 95.604,14.57, 95.69,16.24, 95.7,15.23, 95.786,15.23, 95.786,16.45, 95.847,16.34, 95.92,15.2, 95.956,12.27, 95.99,8.09, 96.065,4.33, 96.16,7.67, 96.235,12.27, 96.247,18.33, 96.16,18.85, 96.356,18.85, 96.405,17.28, 96.478,17.28, 96.575,15.61, 96.636,13.2, 96.72,15.2, 96.82,15.92, 96.94,15.92, 96.94,8.61, 96.854,8.61, 96.745,9.55, 96.696,10.07, 96.575,10.8, 96.526,12.27, 96.466,14.98, 96.38,16.76, 96.31,16.76, 96.26,11.85, 96.247,5.58, 96.21,2.45, 96.065,.98, 95.944,2.24, 95.895,6, 95.847,12.27, 95.82,14.15, 95.774,14.15, 95.677,10.39, 95.543,2.86, 95.555,.25, 95.2,.25]],
  ["cream",[96.005,17.18, 96.09,17.28, 96.175,16.66, 96.187,14.36, 96.16,10.6, 96.065,8.5, 96.017,10.39, 96.005,14.36]],
  ["yellow",[96.284,3.91, 96.31,11.85, 96.345,15.4, 96.405,15.72, 96.466,14.78, 96.5,10.18, 96.51,6, 96.587,4.12, 96.66,6.2, 96.696,6.94, 96.94,6.83, 96.94,-.3, 96.2,-.3, 96.175,.77, 96.284,2.24]],
  ["yellow",[96.696,-.2, 96.77,3.28, 96.82,4.95, 96.94,5.16, 96.94,-.2]],
  ["yellow",[96.26,-.2, 96.4,1.82, 96.48,-.2]],
  ["gold",[95.76,-.2, 95.8,.46, 95.86,-.2]],
  // day 97-98 block
  ["yellow",[97.1,4.43, 97.2,4.37, 97.28,3.7, 97.327,1.82, 97.41,.25, 97.5,.56, 97.58,2.24, 97.594,7.04, 97.63,9.76, 97.74,10.24, 97.81,9.55, 97.86,6, 97.886,.56, 97.9,-.3, 97.1,-.3]],
  ["gold",[97.63,-.2, 97.69,.36, 97.74,-.2]],
  ["red",[97.376,17.5, 97.35,11.64, 97.39,8.09, 97.437,4.33, 97.485,7.25, 97.52,13.73, 97.57,14.25, 97.667,13.83, 97.81,13.63, 97.86,12.27, 97.934,10.18, 98.007,8.5, 98.18,7.67, 98.18,10.39, 98.104,10.28, 97.98,10.8, 97.934,12.27, 97.886,14.36, 97.873,15.82, 97.9,17.07, 97.96,18.43, 97.91,18.85, 97.81,18.12, 97.74,15.61, 97.667,15.4, 97.57,16.13, 97.534,16.87, 97.485,17.5]],
  ["cream",[98.03,17.7, 97.97,16.45, 97.97,15.19, 98.03,13.52, 98.1,12.69, 98.18,12.69, 98.18,17.7]],
  // day 98-99 block
  ["red",[98.25,10.8, 98.33,10.8, 98.41,11.43, 98.44,13.73, 98.5,15.61, 98.6,16.6, 98.64,15.72, 98.76,15.09, 98.76,14.57, 98.71,14.57, 98.625,14.04, 98.6,11.64, 98.52,9.76, 98.44,7.88, 98.33,6.42, 98.25,6.42]],
  ["yellow",[98.53,-.2, 98.565,2.24, 98.6,7.25, 98.65,8.92, 98.71,9.24, 98.76,9.24, 98.76,-.2]],
];

// Rows and columns of the stippled sample points in panel (a).
const stippleRowsA = [2.5,3,3.5,4,4.5,5,5.5,6,6.5,7,7.5,8,8.5,9,9.5,10,10.5,11,11.5,12,12.5,13,13.5,14,14.5,15,15.5,16,16.5,17];
const stippleColsA = [92.22,92.26,92.3,92.34,92.38,92.42,92.46,92.5,92.54,92.58,92.62,92.66,92.7,92.74,92.78,92.82,92.86,92.94,92.98,93.02,93.06,93.18,93.22,93.26,93.3,93.34,93.54,93.58,93.62,93.7,93.74,93.78,93.9,93.94,93.98,94.02,94.06,94.1,94.14,94.24,94.28,94.32,94.36,94.4,94.44,94.48,94.52,94.56];
const stippleRowsB = [1,1.5,2,2.5,3,3.5,4,4.5,5,5.5,6,6.5,7,7.5,8,8.5,9,9.5,10,10.5,11,11.5,12,12.5,13,13.5,14,14.5,15];
const stippleColsB = [95.44,95.47,95.5,95.53,95.56,95.84,95.88,95.92,95.96,96,96.04,96.28,96.32,96.36,96.4,96.44,96.52,96.56,96.72,97.34,97.37,97.4,97.43,97.56,97.6,97.64,97.68,97.72,97.76,97.8,97.84,97.88,97.92,97.96,98.47,98.5,98.53,98.56,98.59];

const PANELS = [
  { top: topA, bottom: bottomA, bases: basesA, bands: bandsA, islands: [] as Band[], name: "(a)", legend: legendA, right: 149 },
  { top: topB, bottom: bottomA, bases: basesB, bands: bandsB, islands: [] as Band[], name: "(b)", legend: legendB, right: 155 },
  { top: topC, bottom: bottomC, bases: basesC, bands: bandsC, islands: islandsC, name: "(c)", legend: legendC, right: 160 },
  { top: topD, bottom: bottomA, bases: basesD, bands: bandsD, islands: [] as Band[], name: "(d)", legend: legendD, right: 165 },
];
const GRID_TOPS = [20, 398, 777, 1150];
const LEGEND_TOPS = [97, 475, 853, 1227];
const LABEL_TOPS = [18, 397, 775, 1149];

function maskPoints(stairs: number[], far: number): number[] {
  const out = [92, far];
  for (let i = 0; i < stairs.length; i += 2) {
    const next = i + 2 < stairs.length ? stairs[i + 2] : 99;
    out.push(stairs[i], stairs[i + 1], next, stairs[i + 1]);
  }
  out.push(99, far);
  return out;
}

type Layer = { color: string; pts: number[]; smooth: number };

function layersOf(p: (typeof PANELS)[number]): Layer[] {
  const rect = (b: Base): Layer => ({ color: b[0], pts: [b[1], -1, b[2], -1, b[2], 21, b[1], 21], smooth: 0 });
  const layers: Layer[] = p.bases.map(rect);
  p.bands.forEach((b) => layers.push({ color: b[0], pts: b[1], smooth: 0.3 }));
  layers.push({ color: "white", pts: maskPoints(p.top, 20.5), smooth: 0 });
  layers.push({ color: "white", pts: maskPoints(p.bottom, -0.5), smooth: 0 });
  p.islands.forEach((b) => layers.push({ color: b[0], pts: b[1], smooth: 0.1 }));
  return layers;
}

export default function App() {
  const ref = useRef<HTMLDivElement>(null);
  useEffect(() => {
    document.body.style.margin = "0";
    const chart = echarts.init(ref.current!, undefined, { renderer: "svg" });
    const axisCommon = { z: 10, axisLine: { show: true, onZero: false, lineStyle: { color: "#2B2B2B", width: 1.6 } }, splitLine: { show: false }, minorSplitLine: { show: false } };
    const ticks = { axisTick: { show: true, inside: true, length: 10, lineStyle: { color: "#2B2B2B", width: 1.2 } }, minorTick: { show: true, splitNumber: 5, length: 6, lineStyle: { color: "#2B2B2B", width: 1.2 } } };
    const labelStyle = { color: "#222", fontFamily: FONT, fontSize: 23 };
    const grid: any[] = [], xAxis: any[] = [], yAxis: any[] = [], series: any[] = [], graphic: any[] = [];

    PANELS.forEach((p, idx) => {
      grid.push({ left: 255, top: GRID_TOPS[idx], width: 1091, height: 319, containLabel: false });
      const ax = idx * 2;
      xAxis.push({ ...axisCommon, ...ticks, type: "value", gridIndex: idx, position: "bottom", min: 92, max: 99, interval: 1,
        axisLabel: { ...labelStyle, margin: 9, showMinLabel: true, showMaxLabel: true, hideOverlap: false },
        ...(idx === 3 ? { name: "Day Number (1999)", nameLocation: "center", nameGap: 42, nameTextStyle: { color: "#222", fontFamily: FONT, fontSize: 26, padding: [0, 0, 0, 9] } } : {}) });
      xAxis.push({ ...axisCommon, ...ticks, type: "value", gridIndex: idx, position: "top", min: 92, max: 99, interval: 1, axisLabel: { show: false } });
      yAxis.push({ ...axisCommon, ...ticks, type: "value", gridIndex: idx, position: "left", min: 0, max: 20, interval: 5,
        axisLabel: { ...labelStyle, margin: 5, showMinLabel: true, showMaxLabel: true },
        name: "Height above bed (m)", nameLocation: "center", nameRotate: 90, nameGap: 48,
        nameTextStyle: { color: "#222", fontFamily: FONT, fontSize: 27, padding: [0, 8, 0, 0] } });
      yAxis.push({ ...axisCommon, ...ticks, type: "value", gridIndex: idx, position: "right", min: 0, max: 20, interval: 5, axisLabel: { show: false } });

      const layers = layersOf(p);
      series.push({
        type: "custom", xAxisIndex: ax, yAxisIndex: ax, coordinateSystem: "cartesian2d", clip: true, silent: true, z: 2,
        data: layers.map((l, i) => [l.pts[0], l.pts[1], i]),
        renderItem: (params: any, api: any) => {
          const l = layers[params.dataIndex];
          const points: number[][] = [];
          for (let i = 0; i < l.pts.length; i += 2) points.push(api.coord([l.pts[i], l.pts[i + 1]]));
          return {
            type: "polygon", shape: { points, smooth: l.smooth },
            style: { fill: FILL[l.color], stroke: l.smooth === 0 ? "none" : STROKE[l.color], lineWidth: 2 },
          };
        },
      });

      graphic.push({ type: "text", left: 72, top: LABEL_TOPS[idx] - 14, z: 20, style: { text: p.name, fontFamily: FONT, fontSize: 27, fill: "#222" } });
      p.legend.forEach((label, i) => {
        const cy = LEGEND_TOPS[idx] + i * 20.75;
        const key = LEGEND_KEYS[i];
        graphic.push({ type: "rect", z: 20, shape: { x: 11, y: cy - 9, width: 43, height: 17, r: 1 }, style: { fill: FILL[key], stroke: EDGE[i], lineWidth: 2 } });
        graphic.push({ type: "text", z: 20, x: p.right, y: cy, style: { text: label, align: "right", verticalAlign: "middle", fontFamily: FONT, fontSize: 17.5, fill: "#222" } });
      });
    });

    const stipple = (cols: number[], rows: number[]) => {
      const out: number[][] = [];
      cols.forEach((x) => rows.forEach((y) => out.push([x, y])));
      return out;
    };
    series.push({
      type: "scatter", xAxisIndex: 0, yAxisIndex: 0, silent: true, z: 3, symbol: "rect", symbolSize: [3, 2],
      itemStyle: { color: "rgba(10,45,105,0.6)" },
      data: [...stipple(stippleColsA, stippleRowsA), ...stipple(stippleColsB, stippleRowsB)],
    });

    chart.setOption({ animation: false, backgroundColor: "#fff", grid, xAxis, yAxis, series, graphic: { elements: graphic } });
    return () => chart.dispose();
  }, []);
  return <div ref={ref} style={{ width: 1379, height: 1542 }} />;
}
